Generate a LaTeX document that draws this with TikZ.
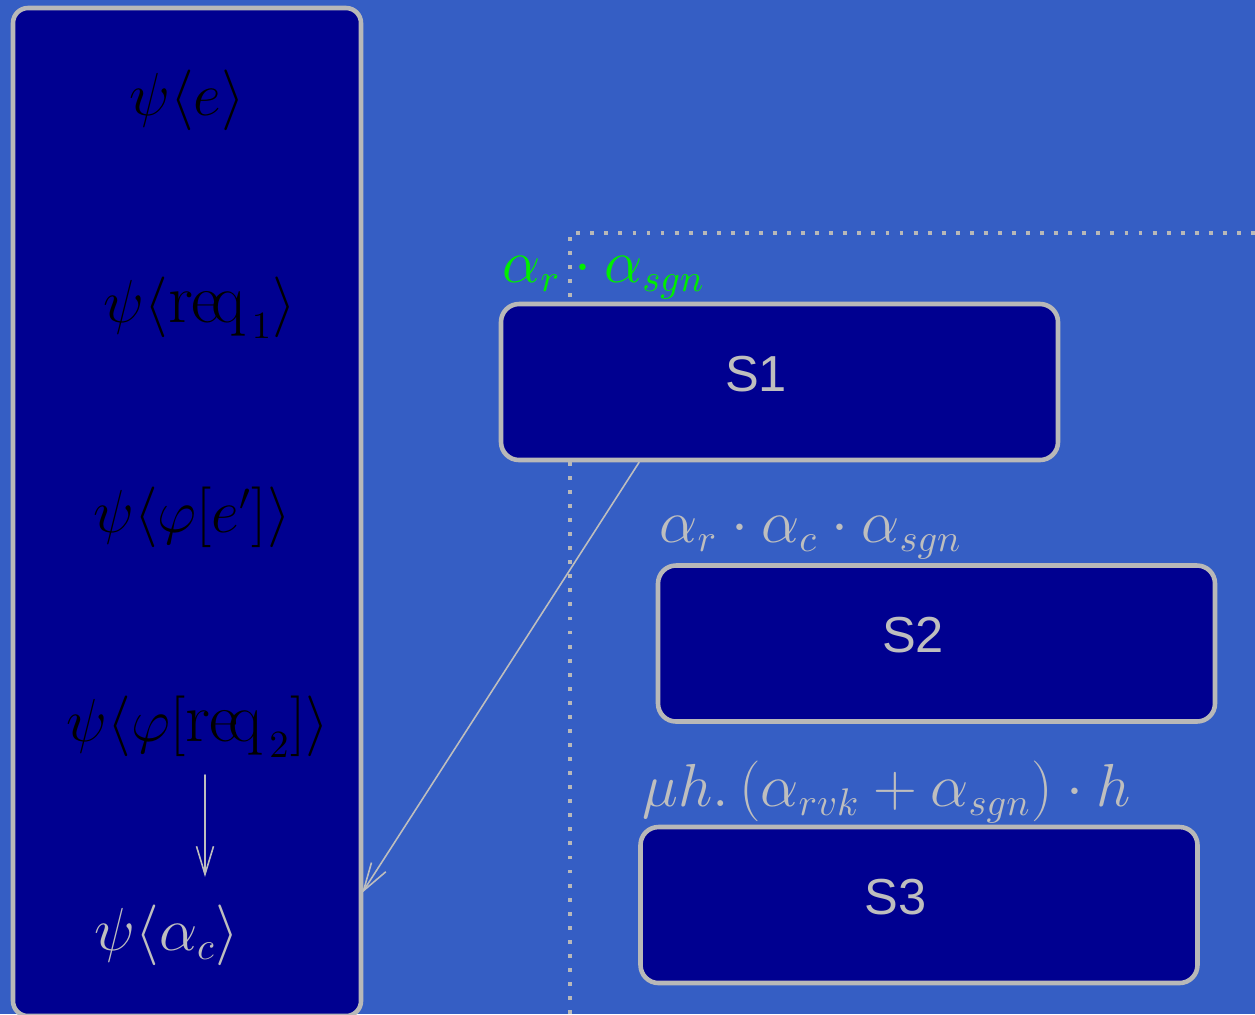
\documentclass[tikz,border=0pt]{standalone}
\usepackage{fontspec}
\newfontfamily\boxfont{Liberation Sans}
\usetikzlibrary{calc,arrows.meta,positioning}

\definecolor{bgblue}{RGB}{53,94,196}
\definecolor{boxnavy}{RGB}{0,0,144}
\definecolor{edgegray}{RGB}{184,184,184}
\definecolor{textgray}{RGB}{190,190,190}
\definecolor{labgreen}{RGB}{0,238,0}

% wide, crowded roman word
\newcommand{\wideword}[1]{\mbox{\fontsize{20}{20}\selectfont #1}}

\begin{document}
\begin{tikzpicture}[
		x=0.1mm, y=-0.1mm,
		line join=round,
		line cap=round,
		>={Straight Barb[length=2.8mm,width=1.7mm]},
		flow/.style={->, textgray, line width=0.45pt},
		statebox/.style={draw=edgegray, fill=boxnavy, line width=1.3pt, rounded corners=1.8mm,
			minimum width=55.7mm, minimum height=15.6mm},
		boxlab/.style={font=\boxfont\Large, text=textgray, xshift=-2.35mm, yshift=0.8mm},
		formula/.style={font=\fontsize{16.3}{20}\selectfont, inner sep=1pt},
		guide/.style={edgegray, line width=1.1pt, line cap=butt, dash pattern=on 1.1pt off 2.9pt}
	]
	
	% Background
	\fill[bgblue] (0,0) rectangle (1255,1014);
	\useasboundingbox (0,0) rectangle (1255,1014);
	
	% Left column
	\node[draw=edgegray, fill=boxnavy, line width=1.3pt, rounded corners=1.5mm,
		minimum width=34.8mm, minimum height=100.8mm] (stack) at (187,512) {};
	\node[formula] (e) at (187,100) {$\psi\langle e\rangle$};
	\node[formula] (req1) at (200,308) {$\psi\langle \wideword{r\kern-0.3pt e\kern-2.6pt q}_{\,1}\rangle$};
	\node[formula] (phie) at (192,517) {$\psi\langle \varphi[e']\rangle$};
	\node[formula] (req2) at (198,727) {$\psi\langle \varphi[\wideword{r\kern-0.3pt e\kern-2.6pt q}_{\,2}]\rangle$};
	\node[formula, text=textgray] (alphac) at (167,935) {$\psi\langle \alpha_c\rangle$};
	
	\coordinate (down1) at (205,775);
	\coordinate (down2) at (205,877);
	\draw[flow] (down1) -- (down2);
	
	% Dotted frame
	\draw[guide] (570,1014) -- (570,233) -- (1255,233);
	
	% States
	\node[statebox, label={[boxlab]center:S1}] (s1) at (779.5,382) {};
	\node[statebox, label={[boxlab]center:S2}] (s2) at (936.5,643.5) {};
	\node[statebox, label={[boxlab]center:S3}] (s3) at (919,905) {};
	
	\node[formula, text=labgreen, anchor=south west, inner sep=0pt] (l1) at (502,300) {$\alpha_r\cdot\alpha_{sgn}$};
	\node[formula, text=textgray, anchor=south west, inner sep=0pt] (l2) at (659,560) {$\alpha_r\cdot\alpha_c\cdot\alpha_{sgn}$};
	\node[formula, text=textgray, anchor=south west, inner sep=0pt] (l3) at (642,824) {$\mu h.\,(\alpha_{rvk}+\alpha_{sgn})\cdot h$};
	
	% Link to column
	\coordinate (hit) at (362,893);
	\draw[flow] ($(s1.south west)!0.25!(s1.south east)$) -- (hit);
	
\end{tikzpicture}
\end{document}
